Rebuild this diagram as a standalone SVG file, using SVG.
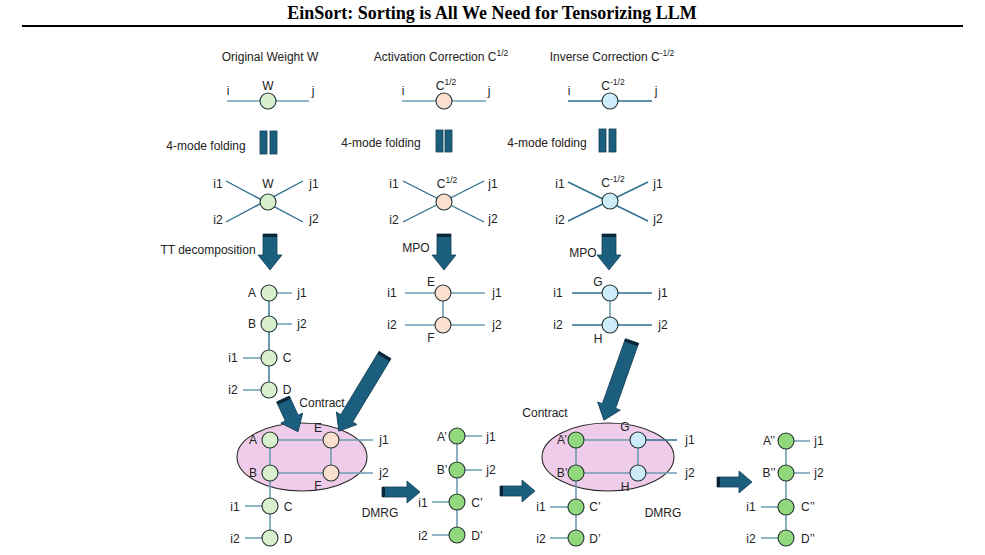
<svg xmlns="http://www.w3.org/2000/svg" width="985" height="555" viewBox="0 0 985 555">
<defs>
<style>
text{font-family:"Liberation Sans",Arial,sans-serif;font-size:12px;fill:#222;text-anchor:middle;dominant-baseline:central}
.title{font-family:"Liberation Serif","Times New Roman",serif;font-weight:bold;font-size:18px;fill:#000;dominant-baseline:auto}
.lt{stroke:#6d9db3;stroke-width:1.6;fill:none}
.dk{stroke:#2d6f8f;stroke-width:1.4;fill:none}
.n{stroke:#243434;stroke-width:1.1}
.g1{fill:#d8f1cc}.o{fill:#fbdfcf}.b{fill:#cbecf8}.g2{fill:#92d87c}
.ell{fill:#efcdea;stroke:#2b2b2b;stroke-width:1.1}
.arr{fill:#1c5e7e;stroke:#103f57;stroke-width:0.8}
.cap{fill:#0b2636}
.sup{font-size:8.5px}
</style>
</defs>

<text class="title" x="492" y="19">EinSort: Sorting is All We Need for Tensorizing LLM</text>
<line x1="22" y1="26" x2="963" y2="26" stroke="#000" stroke-width="1.8"/>

<g id="ellipses">
<ellipse id="contract1" class="ell" cx="302" cy="457" rx="65" ry="34"/>
<ellipse id="contract2" class="ell" cx="608" cy="457" rx="66" ry="34"/>
</g>

<g id="connectors">
<line class="lt" x1="227" y1="101" x2="309" y2="101"/>
<line class="lt" x1="402" y1="101" x2="486" y2="101"/>
<line class="dk" x1="568" y1="101" x2="652" y2="101"/>
<path class="dk" d="M226,181 L303,222 M226,222 L303,181"/>
<path class="dk" d="M403,181 L484,222 M403,222 L484,181"/>
<path class="dk" d="M568,182 L648,221 M568,221 L648,182"/>
<path class="dk" d="M269,293 V390"/>
<path class="lt" d="M269,293 H292 M269,324 H292 M243,358 H269 M243,390 H269"/>
<path class="lt" d="M405,293 H485 M405,325 H485 M443,293 V325"/>
<path class="dk" d="M572,293 H652 M572,325 H652"/>
<path class="lt" d="M610,293 V325"/>
<path class="lt" d="M270,440 H331 M270,473 H331 M270,440 V538 M331,440 V473 M331,440 H373 M331,473 H373 M245,506 H270 M245,538 H270"/>
<path class="lt" d="M457,436 V535 M457,436 H482 M457,470 H482 M432,502 H457 M432,535 H457"/>
<path class="lt" d="M576,440 H638 M576,473 H638 M576,440 V538 M638,440 V473 M638,473 H677 M550,507 H576 M550,538 H576"/>
<path class="dk" d="M638,440 H677"/>
<path class="lt" d="M786,441 V538 M786,441 H810 M786,473 H810 M761,507 H786 M761,538 H786"/>
</g>

<g id="fold-symbols">
<rect class="arr" x="260" y="131" width="7" height="23"/><rect class="arr" x="270" y="131" width="7" height="23"/>
<rect class="arr" x="436" y="130" width="7" height="22"/><rect class="arr" x="445" y="130" width="7" height="22"/>
<rect class="arr" x="599" y="129" width="7" height="23"/><rect class="arr" x="609" y="129" width="7" height="23"/>
</g>

<g id="arrows">
<g transform="translate(270,234)"><path class="arr" d="M-7,0 H7 V21 H12 L0,36 L-12,21 H-7 Z"/><path class="cap" d="M-7,0 H7 V3 H-7 Z"/></g>
<g transform="translate(444,234)"><path class="arr" d="M-7,0 H7 V21 H12 L0,36 L-12,21 H-7 Z"/><path class="cap" d="M-7,0 H7 V3 H-7 Z"/></g>
<g transform="translate(609,234)"><path class="arr" d="M-7,0 H7 V21 H12 L0,36 L-12,21 H-7 Z"/><path class="cap" d="M-7,0 H7 V3 H-7 Z"/></g>
<g transform="translate(385,355) rotate(31.2)"><path class="arr" d="M-7,0 H7 V74 H12 L0,89 L-12,74 H-7 Z"/><path class="cap" d="M-7,0 H7 V3 H-7 Z"/></g>
<g transform="translate(632,341) rotate(19.5)"><path class="arr" d="M-7,0 H7 V69 H12 L0,84 L-12,69 H-7 Z"/><path class="cap" d="M-7,0 H7 V3 H-7 Z"/></g>
<g transform="translate(283,399) rotate(-24.6)"><path class="arr" d="M-7,0 H7 V21 H12 L0,36 L-12,21 H-7 Z"/><path class="cap" d="M-7,0 H7 V3 H-7 Z"/></g>
<g transform="translate(382,492) rotate(-90)"><path class="arr" d="M-5,0 H5 V25 H11 L0,38 L-11,25 H-5 Z"/><path class="cap" d="M-5,0 H5 V3 H-5 Z"/></g>
<g transform="translate(500,491) rotate(-90)"><path class="arr" d="M-5,0 H5 V22 H11 L0,35 L-11,22 H-5 Z"/><path class="cap" d="M-5,0 H5 V3 H-5 Z"/></g>
<g transform="translate(717,482) rotate(-90)"><path class="arr" d="M-5,0 H5 V22 H11 L0,35 L-11,22 H-5 Z"/><path class="cap" d="M-5,0 H5 V3 H-5 Z"/></g>
</g>

<g id="headings">
<text x="270" y="57">Original Weight W</text>
<text x="441" y="57">Activation Correction C<tspan class="sup" dy="-4">1/2</tspan></text>
<text x="612" y="57">Inverse Correction C<tspan class="sup" dy="-4">-1/2</tspan></text>
<text x="206" y="146">4-mode folding</text>
<text x="381" y="143">4-mode folding</text>
<text x="547" y="143">4-mode folding</text>
<text x="208" y="250">TT decomposition</text>
<text x="416" y="248">MPO</text>
<text x="583" y="253">MPO</text>
<text x="322" y="403">Contract</text>
<text x="545" y="413">Contract</text>
<text x="380" y="513">DMRG</text>
<text x="663" y="513">DMRG</text>
</g>

<g id="node-W"><circle class="n g1" cx="268" cy="101" r="8"/><text x="228" y="91">i</text><text x="268" y="86">W</text><text x="313" y="91">j</text></g>
<g id="node-C"><circle class="n o" cx="444" cy="101" r="8"/><text x="403" y="91">i</text><text x="446" y="86">C<tspan class="sup" dy="-4">1/2</tspan></text><text x="489" y="91">j</text></g>
<g id="node-Cinv"><circle class="n b" cx="610" cy="101" r="8"/><text x="569" y="91">i</text><text x="613" y="86">C<tspan class="sup" dy="-4">-1/2</tspan></text><text x="656" y="91">j</text></g>

<g id="node-W4"><circle class="n g1" cx="268" cy="202" r="8"/><text x="268" y="184">W</text><text x="218" y="184">i1</text><text x="314" y="184">j1</text><text x="218" y="220">i2</text><text x="314" y="219">j2</text></g>
<g id="node-C4"><circle class="n o" cx="444" cy="202" r="8"/><text x="447" y="184">C<tspan class="sup" dy="-4">1/2</tspan></text><text x="394" y="184">i1</text><text x="493" y="184">j1</text><text x="394" y="220">i2</text><text x="493" y="219">j2</text></g>
<g id="node-Cinv4"><circle class="n b" cx="610" cy="201" r="8"/><text x="613" y="183">C<tspan class="sup" dy="-4">-1/2</tspan></text><text x="560" y="184">i1</text><text x="658" y="184">j1</text><text x="560" y="220">i2</text><text x="658" y="219">j2</text></g>

<g id="tt-chain">
<g id="node-A"><circle class="n g1" cx="269" cy="293" r="8"/><text x="252" y="293">A</text><text x="302" y="293">j1</text></g>
<g id="node-B"><circle class="n g1" cx="269" cy="324" r="8"/><text x="252" y="324">B</text><text x="302" y="324">j2</text></g>
<g id="node-Cc"><circle class="n g1" cx="269" cy="358" r="8"/><text x="287" y="358">C</text><text x="233" y="358">i1</text></g>
<g id="node-D"><circle class="n g1" cx="269" cy="390" r="8"/><text x="287" y="390">D</text><text x="233" y="390">i2</text></g>
</g>

<g id="mpo1">
<g id="node-E"><circle class="n o" cx="443" cy="293" r="8"/><text x="431" y="282">E</text><text x="392" y="293">i1</text><text x="497" y="293">j1</text></g>
<g id="node-F"><circle class="n o" cx="443" cy="325" r="8"/><text x="431" y="338">F</text><text x="392" y="325">i2</text><text x="497" y="325">j2</text></g>
</g>
<g id="mpo2">
<g id="node-G"><circle class="n b" cx="610" cy="293" r="8"/><text x="598" y="282">G</text><text x="558" y="293">i1</text><text x="663" y="293">j1</text></g>
<g id="node-H"><circle class="n b" cx="610" cy="325" r="8"/><text x="598" y="339">H</text><text x="558" y="325">i2</text><text x="663" y="325">j2</text></g>
</g>

<g id="contracted1">
<g id="c1-A"><circle class="n g1" cx="270" cy="440" r="8"/><text x="253" y="440">A</text></g>
<g id="c1-E"><circle class="n o" cx="331" cy="440" r="8"/><text x="318" y="428">E</text><text x="384" y="440">j1</text></g>
<g id="c1-B"><circle class="n g1" cx="270" cy="473" r="8"/><text x="253" y="473">B</text></g>
<g id="c1-F"><circle class="n o" cx="331" cy="473" r="8"/><text x="318" y="486">F</text><text x="384" y="473">j2</text></g>
<g id="c1-C"><circle class="n g1" cx="270" cy="506" r="8"/><text x="288" y="507">C</text><text x="235" y="507">i1</text></g>
<g id="c1-D"><circle class="n g1" cx="270" cy="538" r="8"/><text x="288" y="539">D</text><text x="235" y="539">i2</text></g>
</g>

<g id="chain2">
<g id="p-A"><circle class="n g2" cx="457" cy="436" r="8"/><text x="442" y="437">A’</text><text x="491" y="437">j1</text></g>
<g id="p-B"><circle class="n g2" cx="457" cy="470" r="8"/><text x="442" y="470">B’</text><text x="491" y="470">j2</text></g>
<g id="p-C"><circle class="n g2" cx="457" cy="502" r="8"/><text x="477" y="503">C’</text><text x="423" y="503">i1</text></g>
<g id="p-D"><circle class="n g2" cx="457" cy="535" r="8"/><text x="477" y="536">D’</text><text x="423" y="536">i2</text></g>
</g>

<g id="contracted2">
<g id="c2-A"><circle class="n g2" cx="576" cy="440" r="8"/><text x="562" y="440">A’</text></g>
<g id="c2-G"><circle class="n b" cx="638" cy="440" r="8"/><text x="625" y="427">G</text><text x="690" y="440">j1</text></g>
<g id="c2-B"><circle class="n g2" cx="576" cy="473" r="8"/><text x="562" y="473">B’</text></g>
<g id="c2-H"><circle class="n b" cx="638" cy="473" r="8"/><text x="625" y="487">H</text><text x="690" y="473">j2</text></g>
<g id="c2-C"><circle class="n g2" cx="576" cy="507" r="8"/><text x="595" y="507">C’</text><text x="541" y="507">i1</text></g>
<g id="c2-D"><circle class="n g2" cx="576" cy="538" r="8"/><text x="595" y="539">D’</text><text x="541" y="539">i2</text></g>
</g>

<g id="chain3">
<g id="pp-A"><circle class="n g2" cx="786" cy="441" r="8"/><text x="769" y="441">A’’</text><text x="819" y="441">j1</text></g>
<g id="pp-B"><circle class="n g2" cx="786" cy="473" r="8"/><text x="769" y="473">B’’</text><text x="819" y="473">j2</text></g>
<g id="pp-C"><circle class="n g2" cx="786" cy="507" r="8"/><text x="808" y="507">C’’</text><text x="751" y="507">i1</text></g>
<g id="pp-D"><circle class="n g2" cx="786" cy="538" r="8"/><text x="808" y="539">D’’</text><text x="751" y="539">i2</text></g>
</g>
</svg>
